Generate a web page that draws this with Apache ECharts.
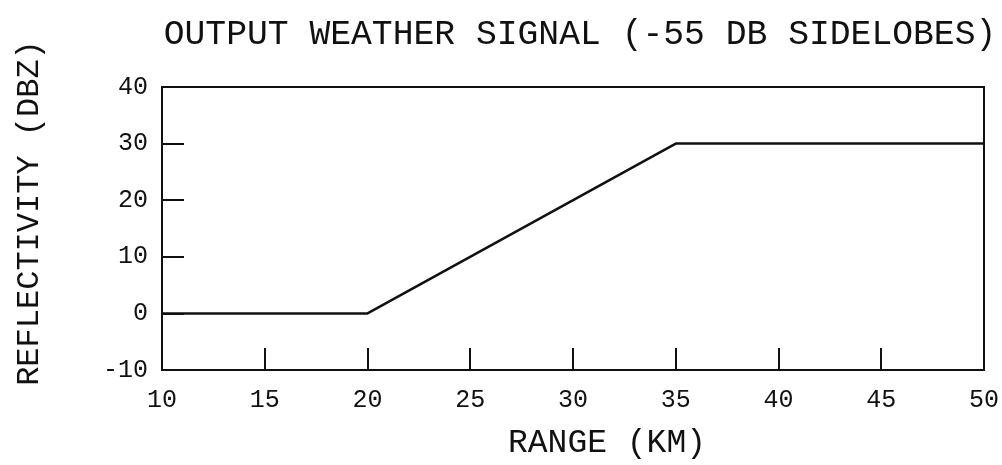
<!DOCTYPE html>
<html>
<head>
<meta charset="utf-8">
<script src="https://cdn.jsdelivr.net/npm/echarts@6/dist/echarts.min.js"></script>
<style>
  html, body { margin: 0; padding: 0; background: #fff; }
  #chart { width: 1002px; height: 465px; }
</style>
</head>
<body>
<div id="chart"></div>
<script>
// Range (km) and reflectivity (dBZ) breakpoints of the output weather signal
const rangeKm = [10, 20, 35, 50];
const reflectivityDbz = [0, 0, 30, 30];

const titleText = 'OUTPUT WEATHER SIGNAL (-55 DB SIDELOBES)';
const xName = 'RANGE (KM)';
const yName = 'REFLECTIVITY (DBZ)';

const FONT = '"Liberation Mono", "Courier New", monospace';
const INK = '#111';

const chart = echarts.init(document.getElementById('chart'), null, { renderer: 'canvas' });

chart.setOption({
  backgroundColor: '#fff',
  animation: false,
  title: {
    text: titleText,
    left: 575,
    top: 12,
    textAlign: 'center',
    textStyle: { fontFamily: FONT, fontSize: 34.7, fontWeight: 'normal', color: INK }
  },
  grid: {
    left: 162, right: 18, top: 87, bottom: 95,
    show: true, borderColor: INK, borderWidth: 2, backgroundColor: 'transparent'
  },
  // axis titles placed as free text
  graphic: [
    {
      type: 'text',
      x: 607, y: 443,
      style: {
        text: xName, font: '33px ' + FONT, fill: INK,
        align: 'center', verticalAlign: 'middle'
      }
    },
    {
      type: 'text',
      x: 30, y: 213,
      rotation: Math.PI / 2,
      style: {
        text: yName, font: '32px ' + FONT, fill: INK,
        align: 'center', verticalAlign: 'middle'
      }
    }
  ],
  xAxis: {
    type: 'value',
    min: 10, max: 50, interval: 5,
    axisLine: { show: true, onZero: false, lineStyle: { color: INK, width: 2 } },
    axisTick: { show: true, inside: true, length: 22, lineStyle: { color: INK, width: 2 } },
    axisLabel: { fontFamily: FONT, fontSize: 25, color: INK, margin: 18 },
    splitLine: { show: false }
  },
  yAxis: {
    type: 'value',
    min: -10, max: 40, interval: 10,
    axisLine: { show: true, onZero: false, lineStyle: { color: INK, width: 2 } },
    axisTick: { show: true, inside: true, length: 22, lineStyle: { color: INK, width: 2 } },
    axisLabel: { fontFamily: FONT, fontSize: 25, color: INK, margin: 14 },
    splitLine: { show: false }
  },
  series: [{
    type: 'line',
    data: rangeKm.map((x, i) => [x, reflectivityDbz[i]]),
    symbol: 'none',
    lineStyle: { color: INK, width: 2.5 },
    clip: true
  }]
});
</script>
</body>
</html>
